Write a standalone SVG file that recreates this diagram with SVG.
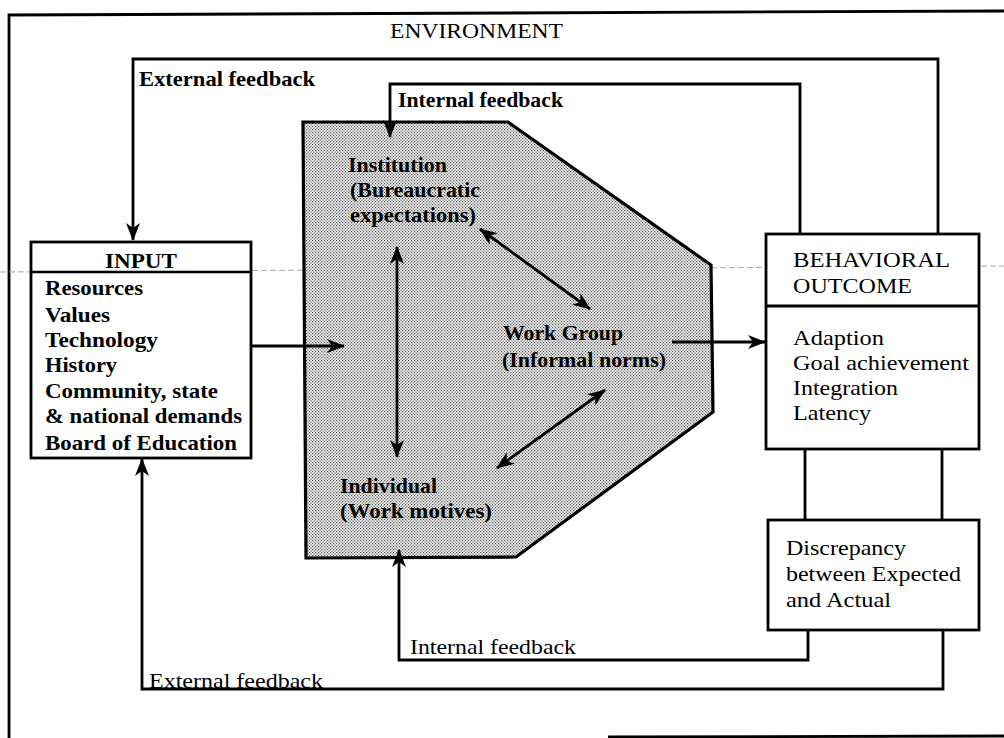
<svg xmlns="http://www.w3.org/2000/svg" width="1004" height="738" viewBox="0 0 1004 738">
<style>
text{font-family:"Liberation Serif","Times New Roman",serif;font-size:21px;fill:#000}
.b{font-weight:bold}
.ln{fill:none;stroke:#000;stroke-width:2.8}
.box{fill:#fff;stroke:#000;stroke-width:2.8}
</style>
<defs>
<pattern id="dots" width="3" height="3" patternUnits="userSpaceOnUse">
<rect width="3" height="3" fill="#f4f4f4"/>
<rect x="0" y="0" width="1.2" height="1.2" fill="#555"/>
<rect x="1.5" y="1.5" width="1.2" height="1.2" fill="#555"/>
</pattern>
<marker id="ah" viewBox="0 0 18 14" refX="17" refY="7" markerWidth="18" markerHeight="14" markerUnits="userSpaceOnUse" orient="auto-start-reverse">
<path d="M0,0 L18,7 L0,14 L5,7 z" fill="#000"/>
</marker>
</defs>
<g id="environment">
<path d="M9,738 L9,15 L1004,11" class="ln" stroke-width="2.4"/>
<path d="M608,737 L1004,736" class="ln" stroke-width="2.4"/>
<text x="390" y="38" textLength="173" lengthAdjust="spacingAndGlyphs">ENVIRONMENT</text>
</g>
<line x1="0" y1="272" x2="1004" y2="266" stroke="#aaa" stroke-width="1" stroke-dasharray="6 3"/>
<g id="organization">
<path d="M303,122 L508,122 L711,265 L713,412 L516,557 L306,558 Z" fill="url(#dots)" stroke="#000" stroke-width="3.2"/>
<text class="b" x="348" y="172" textLength="99" lengthAdjust="spacingAndGlyphs">Institution</text>
<text class="b" x="350" y="197" textLength="130" lengthAdjust="spacingAndGlyphs">(Bureaucratic</text>
<text class="b" x="350" y="222" textLength="126" lengthAdjust="spacingAndGlyphs">expectations)</text>
<text class="b" x="503" y="340" textLength="120" lengthAdjust="spacingAndGlyphs">Work Group</text>
<text class="b" x="502" y="367" textLength="164" lengthAdjust="spacingAndGlyphs">(Informal norms)</text>
<text class="b" x="340" y="493" textLength="97" lengthAdjust="spacingAndGlyphs">Individual</text>
<text class="b" x="340" y="518" textLength="152" lengthAdjust="spacingAndGlyphs">(Work motives)</text>
</g>
<g id="input">
<rect x="31" y="242" width="220" height="216" class="box"/>
<line x1="31" y1="272" x2="251" y2="272" stroke="#000" stroke-width="2.4"/>
<text class="b" x="105" y="268" textLength="72" lengthAdjust="spacingAndGlyphs">INPUT</text>
<text class="b" x="45" y="295" textLength="98" lengthAdjust="spacingAndGlyphs">Resources</text>
<text class="b" x="45" y="322" textLength="65" lengthAdjust="spacingAndGlyphs">Values</text>
<text class="b" x="45" y="347" textLength="113" lengthAdjust="spacingAndGlyphs">Technology</text>
<text class="b" x="45" y="372" textLength="72" lengthAdjust="spacingAndGlyphs">History</text>
<text class="b" x="45" y="398" textLength="173" lengthAdjust="spacingAndGlyphs">Community, state</text>
<text class="b" x="45" y="423" textLength="197" lengthAdjust="spacingAndGlyphs">&amp; national demands</text>
<text class="b" x="45" y="450" textLength="192" lengthAdjust="spacingAndGlyphs">Board of Education</text>
</g>
<g id="behavioral-outcome">
<rect x="766" y="234" width="213" height="215" class="box"/>
<line x1="766" y1="306" x2="979" y2="306" stroke="#000" stroke-width="2.8"/>
<text x="793" y="267" textLength="157" lengthAdjust="spacingAndGlyphs">BEHAVIORAL</text>
<text x="793" y="293" textLength="119" lengthAdjust="spacingAndGlyphs">OUTCOME</text>
<text x="793" y="345" textLength="91" lengthAdjust="spacingAndGlyphs">Adaption</text>
<text x="793" y="370" textLength="176" lengthAdjust="spacingAndGlyphs">Goal achievement</text>
<text x="793" y="395" textLength="105" lengthAdjust="spacingAndGlyphs">Integration</text>
<text x="793" y="420" textLength="78" lengthAdjust="spacingAndGlyphs">Latency</text>
</g>
<g id="discrepancy">
<rect x="768" y="520" width="211" height="110" class="box"/>
<text x="786" y="555" textLength="120" lengthAdjust="spacingAndGlyphs">Discrepancy</text>
<text x="786" y="581" textLength="175" lengthAdjust="spacingAndGlyphs">between Expected</text>
<text x="786" y="607" textLength="105" lengthAdjust="spacingAndGlyphs">and Actual</text>
</g>
<g id="connectors">
<polyline class="ln" points="938,234 938,59 133,59 133,240" marker-end="url(#ah)"/>
<text class="b" x="139" y="86" textLength="176" lengthAdjust="spacingAndGlyphs">External feedback</text>
<polyline class="ln" points="800,234 800,84 390,84 390,137" marker-end="url(#ah)"/>
<text class="b" x="398" y="107" textLength="165" lengthAdjust="spacingAndGlyphs">Internal feedback</text>
<line class="ln" x1="251" y1="346" x2="344" y2="346" marker-end="url(#ah)"/>
<line class="ln" x1="672" y1="342" x2="765" y2="342" marker-end="url(#ah)"/>
<line class="ln" x1="397" y1="247" x2="397" y2="457" marker-start="url(#ah)" marker-end="url(#ah)"/>
<line class="ln" x1="480" y1="229" x2="590" y2="309" marker-start="url(#ah)" marker-end="url(#ah)"/>
<line class="ln" x1="605" y1="390" x2="497" y2="468" marker-start="url(#ah)" marker-end="url(#ah)"/>
<line class="ln" x1="805" y1="449" x2="805" y2="520"/>
<line class="ln" x1="942" y1="449" x2="942" y2="520"/>
<polyline class="ln" points="808,630 808,660 399,660 399,550" marker-end="url(#ah)"/>
<text x="410" y="654" textLength="166" lengthAdjust="spacingAndGlyphs">Internal feedback</text>
<polyline class="ln" points="943,630 943,689 142,689 142,459" marker-end="url(#ah)"/>
<text x="149" y="688" textLength="174" lengthAdjust="spacingAndGlyphs">External feedback</text>
</g>
</svg>
